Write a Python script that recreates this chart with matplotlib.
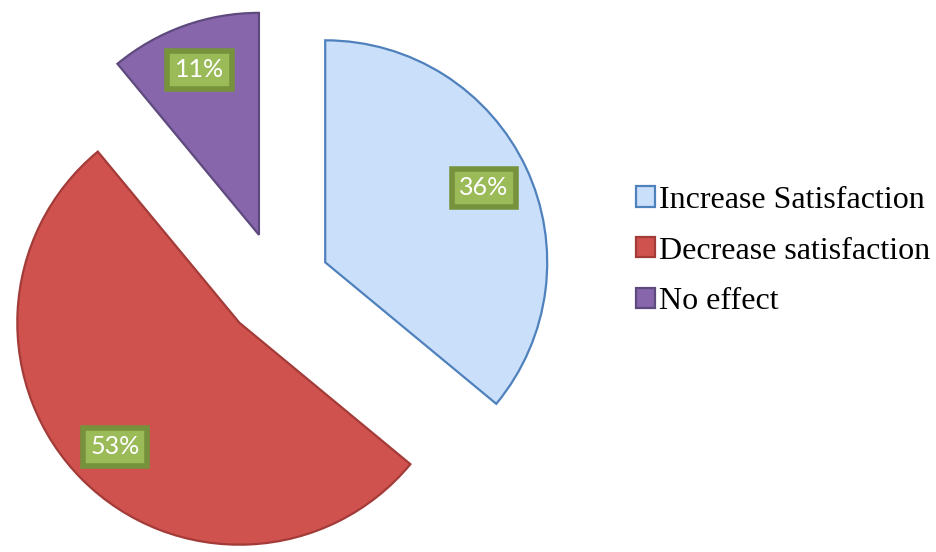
import matplotlib.pyplot as plt

labels = ['Increase Satisfaction', 'Decrease satisfaction', 'No effect']
shares = [36, 53, 11]
face_colors = ['#CADFFA', '#D0524F', '#8766AC']
edge_colors = ['#4F81BD', '#A33B38', '#5F4A7E']

fig = plt.figure(figsize=(9.37, 5.52), dpi=100)
ax = fig.add_axes([0, 0, 1, 1])

# pie centre in pixels and radius in pixels
cx, cy, r = 277, 285, 222

wedges, texts, autotexts = ax.pie(
    shares, colors=face_colors, startangle=90, counterclock=False,
    explode=[0.24] * 3, autopct='%.0f%%', pctdistance=0.79, frame=False,
    wedgeprops=dict(linewidth=1.6), textprops=dict(color='white'))
ax.set_xlim(-cx / r, (937 - cx) / r)
ax.set_ylim(-(552 - cy) / r, cy / r)
ax.set_aspect('equal')
ax.axis('off')

for w, ec in zip(wedges, edge_colors):
    w.set_edgecolor(ec)

for t in autotexts:
    t.set_fontfamily('Lato')
    t.set_fontsize(18)
    t.set_bbox(dict(boxstyle='square,pad=0.3', facecolor='#9BBB59',
                    edgecolor='#76923C', linewidth=4))

leg = ax.legend(wedges, labels, loc='center left',
                bbox_to_anchor=(636 / 937, 1 - 251 / 552),
                bbox_transform=fig.transFigure, frameon=False,
                prop={'family': 'Liberation Serif', 'size': 23},
                handlelength=0.6, handleheight=0.6, handletextpad=0.12,
                labelspacing=0.68, borderaxespad=0, borderpad=0)

fig.savefig('out.png', dpi=100)
